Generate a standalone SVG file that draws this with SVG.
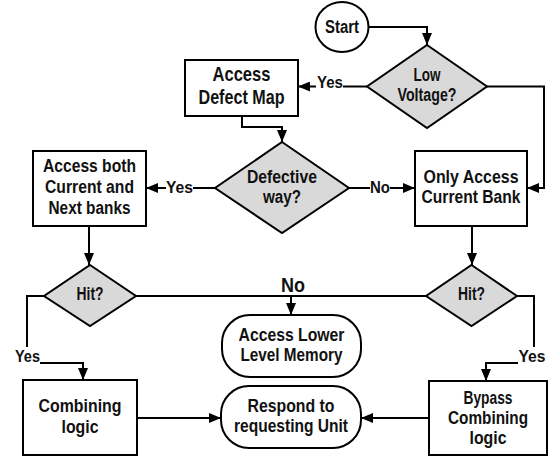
<svg xmlns="http://www.w3.org/2000/svg" width="554" height="456" viewBox="0 0 554 456">
<style>
.n{fill:#fff;stroke:#000;stroke-width:2}
.d{fill:#d9d9d9;stroke:#000;stroke-width:2}
.c{fill:none;stroke:#000;stroke-width:2}
text{font-family:"Liberation Sans",Arial,sans-serif;font-weight:bold;font-size:18px;text-anchor:middle;fill:#111}
.big{font-size:21px}
.lb{font-size:17px}
</style>
<defs>
<marker id="ah" markerUnits="userSpaceOnUse" markerWidth="12" markerHeight="10" refX="12" refY="5" orient="auto">
<path d="M0,0 L12,5 L0,10 z" fill="#000"/>
</marker>
</defs>
<rect width="554" height="456" fill="#fff"/>
<g id="connectors">
<path class="c" d="M369,27 H427 V45" marker-end="url(#ah)"/>
<path class="c" d="M367,86.5 H343"/>
<path class="c" d="M316,86.5 H298" marker-end="url(#ah)"/>
<path class="c" d="M487,86.5 H544 V188 H527" marker-end="url(#ah)"/>
<path class="c" d="M242,116 V127 H282 V142" marker-end="url(#ah)"/>
<path class="c" d="M215,188 H193"/>
<path class="c" d="M166,188 H146" marker-end="url(#ah)"/>
<path class="c" d="M349,188 H370"/>
<path class="c" d="M390,188 H415" marker-end="url(#ah)"/>
<path class="c" d="M89,226 V265" marker-end="url(#ah)"/>
<path class="c" d="M472,226 V265" marker-end="url(#ah)"/>
<path class="c" d="M136,296 H426"/>
<path class="c" d="M291,296 V315" marker-end="url(#ah)"/>
<path class="c" d="M44,296 H27 V347"/>
<path class="c" d="M40,363 H83 V380" marker-end="url(#ah)"/>
<path class="c" d="M517,296 H534 V347"/>
<path class="c" d="M518,363 H486 V381" marker-end="url(#ah)"/>
<path class="c" d="M137,418 H221" marker-end="url(#ah)"/>
<path class="c" d="M429,418 H361" marker-end="url(#ah)"/>
<text class="lb" x="330" y="88" textLength="26" lengthAdjust="spacingAndGlyphs">Yes</text>
<text class="lb" x="179.5" y="193" textLength="27" lengthAdjust="spacingAndGlyphs">Yes</text>
<text class="lb" x="380" y="193" textLength="20" lengthAdjust="spacingAndGlyphs">No</text>
<text class="big" x="293" y="292" textLength="24" lengthAdjust="spacingAndGlyphs">No</text>
<text class="lb" x="27.5" y="362" textLength="25" lengthAdjust="spacingAndGlyphs">Yes</text>
<text class="lb" x="532" y="362" textLength="27" lengthAdjust="spacingAndGlyphs">Yes</text>
</g>
<g id="start">
<ellipse class="n" cx="342" cy="27" rx="26.5" ry="25"/>
<text x="342" y="33" textLength="34" lengthAdjust="spacingAndGlyphs">Start</text>
</g>
<g id="low-voltage">
<polygon class="d" points="427,45 487,86.5 427,128 367,86.5"/>
<text x="427" y="81" textLength="27" lengthAdjust="spacingAndGlyphs">Low</text>
<text x="427" y="101" textLength="59" lengthAdjust="spacingAndGlyphs">Voltage?</text>
</g>
<g id="access-defect-map">
<rect class="n" x="185" y="60" width="113" height="56"/>
<text class="big" x="241.5" y="81" textLength="58" lengthAdjust="spacingAndGlyphs">Access</text>
<text class="big" x="241.5" y="104" textLength="86" lengthAdjust="spacingAndGlyphs">Defect Map</text>
</g>
<g id="defective-way">
<polygon class="d" points="282,142 349,188 282,233 215,188"/>
<text x="282" y="183" textLength="70" lengthAdjust="spacingAndGlyphs">Defective</text>
<text x="282" y="203" textLength="38" lengthAdjust="spacingAndGlyphs">way?</text>
</g>
<g id="access-both">
<rect class="n" x="33" y="151" width="113" height="75"/>
<text x="89.5" y="172" textLength="93" lengthAdjust="spacingAndGlyphs">Access both</text>
<text x="89.5" y="193" textLength="89" lengthAdjust="spacingAndGlyphs">Current and</text>
<text x="89.5" y="214" textLength="82" lengthAdjust="spacingAndGlyphs">Next banks</text>
</g>
<g id="only-access">
<rect class="n" x="415" y="151" width="112" height="75"/>
<text x="471" y="183" textLength="95" lengthAdjust="spacingAndGlyphs">Only Access</text>
<text x="471" y="203" textLength="99" lengthAdjust="spacingAndGlyphs">Current Bank</text>
</g>
<g id="hit-left">
<polygon class="d" points="90,265 136,296 90,326 44,296"/>
<text x="90" y="300" textLength="27" lengthAdjust="spacingAndGlyphs">Hit?</text>
</g>
<g id="hit-right">
<polygon class="d" points="471.5,265 517,296 471.5,326 426,296"/>
<text x="471.5" y="300" textLength="27" lengthAdjust="spacingAndGlyphs">Hit?</text>
</g>
<g id="access-lower">
<rect class="n" x="222" y="315" width="139" height="62" rx="28" ry="28"/>
<text x="291.5" y="341" textLength="106" lengthAdjust="spacingAndGlyphs">Access Lower</text>
<text x="291.5" y="361" textLength="102" lengthAdjust="spacingAndGlyphs">Level Memory</text>
</g>
<g id="respond">
<rect class="n" x="221" y="386" width="140" height="62" rx="28" ry="28"/>
<text x="291" y="412" textLength="87" lengthAdjust="spacingAndGlyphs">Respond to</text>
<text x="291" y="432" textLength="114" lengthAdjust="spacingAndGlyphs">requesting Unit</text>
</g>
<g id="combining">
<rect class="n" x="23" y="380" width="114" height="75"/>
<text x="80" y="412" textLength="83" lengthAdjust="spacingAndGlyphs">Combining</text>
<text x="80" y="433" textLength="37" lengthAdjust="spacingAndGlyphs">logic</text>
</g>
<g id="bypass">
<rect class="n" x="429" y="381" width="118" height="74"/>
<text x="488" y="404" textLength="49" lengthAdjust="spacingAndGlyphs">Bypass</text>
<text x="488" y="424" textLength="80" lengthAdjust="spacingAndGlyphs">Combining</text>
<text x="488" y="444" textLength="37" lengthAdjust="spacingAndGlyphs">logic</text>
</g>
</svg>
